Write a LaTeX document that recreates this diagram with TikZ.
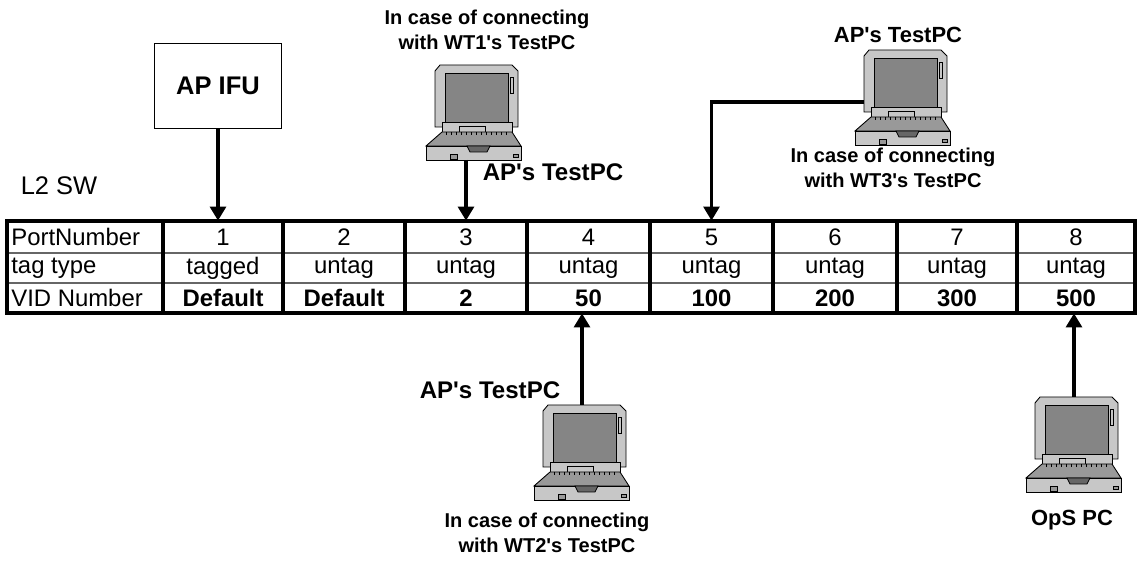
\documentclass[tikz,border=0pt]{standalone}
\usepackage{fontspec}
\setmainfont{Liberation Sans}
\usetikzlibrary{arrows.meta, positioning, calc}

\tikzset{
  pcline/.style={draw=black, line width=0.5pt},
  % notebook PC drawn around its centre, in px units
  laptop/.pic={
    % lid and screen
    \draw[pcline, fill=black!22] (-39,15) -- (-39,-41) -- (-34,-47) -- (38,-47)
      -- (44,-41) -- (44,15) -- cycle;
    \draw[pcline, fill=black!48] (-29,-39) rectangle (34,10);
    \draw[pcline, fill=black!22] (36,-35) rectangle (39,-19);
    % hinge
    \draw[pcline, fill=black!22] (-32,10) rectangle (38,20);
    \draw[pcline, fill=black!22] (-15,14) rectangle (11,20);
    % keyboard
    \draw[pcline, fill=black!40] (-32,20) -- (38,20) -- (47,34) -- (-48,34) -- cycle;
    \foreach \k in {-28,-23,...,34}
      \draw[pcline] (\k,20) -- (\k,23);
    % front
    \draw[pcline, fill=black!22] (-48,34) rectangle (47,48);
    \draw[pcline, fill=black!40] (-24,42) rectangle (-17,47);
    \draw[pcline, fill=black!40] (39,42) rectangle (44,45);
    \draw[pcline, fill=black!60] (-7,34) -- (16,34) -- (13,40) -- (-4,40) -- cycle;
    \coordinate (-n) at (0,-47);
    \coordinate (-s) at (0,48);
    \coordinate (-w) at (-39,5);
  }
}
\newcommand{\aps}{AP\textquotesingle s TestPC}

\begin{document}
\begin{tikzpicture}[
    x=0.02cm, y=-0.02cm,
    >={Triangle[width=9pt,length=8pt]},
    conn/.style={->, line width=2.2pt},
    frame/.style={line width=2.6pt},
    colline/.style={line width=2.2pt},
    rowline/.style={line width=0.8pt, draw=black!60},
    cell/.style={inner sep=0pt, minimum height=0.6cm,
                 font=\fontsize{13.6}{15}\selectfont},
    vidcell/.style={cell, font=\fontsize{13.6}{15}\selectfont\bfseries},
    rowlbl/.style={inner sep=0pt, anchor=west,
                   font=\fontsize{13.6}{15}\selectfont},
    box/.style={draw, line width=1pt, minimum width=2.54cm, minimum height=1.7cm,
                font=\fontsize{14.5}{16}\selectfont\bfseries},
    note/.style={align=center, inner sep=0pt,
                 font=\fontsize{11.4}{14.5}\selectfont\bfseries},
    pclbl/.style={inner sep=0pt, font=\fontsize{13.7}{16}\selectfont\bfseries},
    pclbls/.style={inner sep=0pt, font=\fontsize{12.5}{15}\selectfont\bfseries}
  ]
  \useasboundingbox (0,0) rectangle (1137,567);

  % switch title
  \node[inner sep=0pt, font=\fontsize{14.5}{16}\selectfont] (sw) at (59,186) {L2 SW};

  % port table
  \draw[rowline] (7,253) -- (1135,253);
  \draw[rowline] (7,283) -- (1135,283);
  \draw[frame] (7,221) rectangle (1135,313);
  \foreach \x in {163,283,405,527,650,773,897,1017}
    \draw[colline] (\x,221) -- (\x,313);

  \node[rowlbl] (hport) at (11,237) {PortNumber};
  \node[rowlbl] (htag) at (11,268) {tag type};
  \node[rowlbl] (hvid) at (11,298) {VID Number};

  \foreach \n/\xl/\xr/\tg/\vid in {1/163/283/tagged/Default, 2/283/405/untag/Default,
      3/405/527/untag/2, 4/527/650/untag/50, 5/650/773/untag/100,
      6/773/897/untag/200, 7/897/1017/untag/300, 8/1017/1135/untag/500}
  {
    \node[cell, minimum height=0.64cm] (p\n) at ({(\xl+\xr)/2},237) {\n};
    \node[cell] (t\n) at ({(\xl+\xr)/2},268) {\tg};
    \node[vidcell] (v\n) at ({(\xl+\xr)/2},298) {\vid};
  }

  % port 1: AP IFU
  \node[box] (ifu) at (218,86) {AP IFU};
  \draw[conn] (ifu.south) -- (ifu.south |- p1.north);

  % port 3: WT1 test PC
  \node[note] (wt1) at (487,30) {In case of connecting\\with WT1\textquotesingle s TestPC};
  \pic (pc1) at (474,112) {laptop};
  \node[pclbl] (pc1lbl) at (553,172) {\aps};
  \draw[conn] (p3.north |- pc1-s) -- (p3.north);

  % port 5: WT3 test PC
  \node[pclbls] (pc2lbl) at (898,35) {\aps};
  \pic (pc2) at (903,97) {laptop};
  \node[note] (wt3) at (893,168) {In case of connecting\\with WT3\textquotesingle s TestPC};
  \draw[conn, line width=1.8pt] (pc2-w) -- (p5.north |- pc2-w) -- (p5.north);

  % port 4: WT2 test PC
  \node[pclbl] (pc3lbl) at (490,390) {\aps};
  \pic (pc3) at (582,452) {laptop};
  \node[note] (wt2) at (547,533) {In case of connecting\\with WT2\textquotesingle s TestPC};
  \draw[conn] (pc3-n) -- (pc3-n |- v4.south);

  % port 8: OpS PC
  \pic (pc4) at (1074,444) {laptop};
  \node[pclbls] (ops) at (1072,520) {OpS PC};
  \draw[conn] (pc4-n) -- (pc4-n |- v8.south);
\end{tikzpicture}
\end{document}
